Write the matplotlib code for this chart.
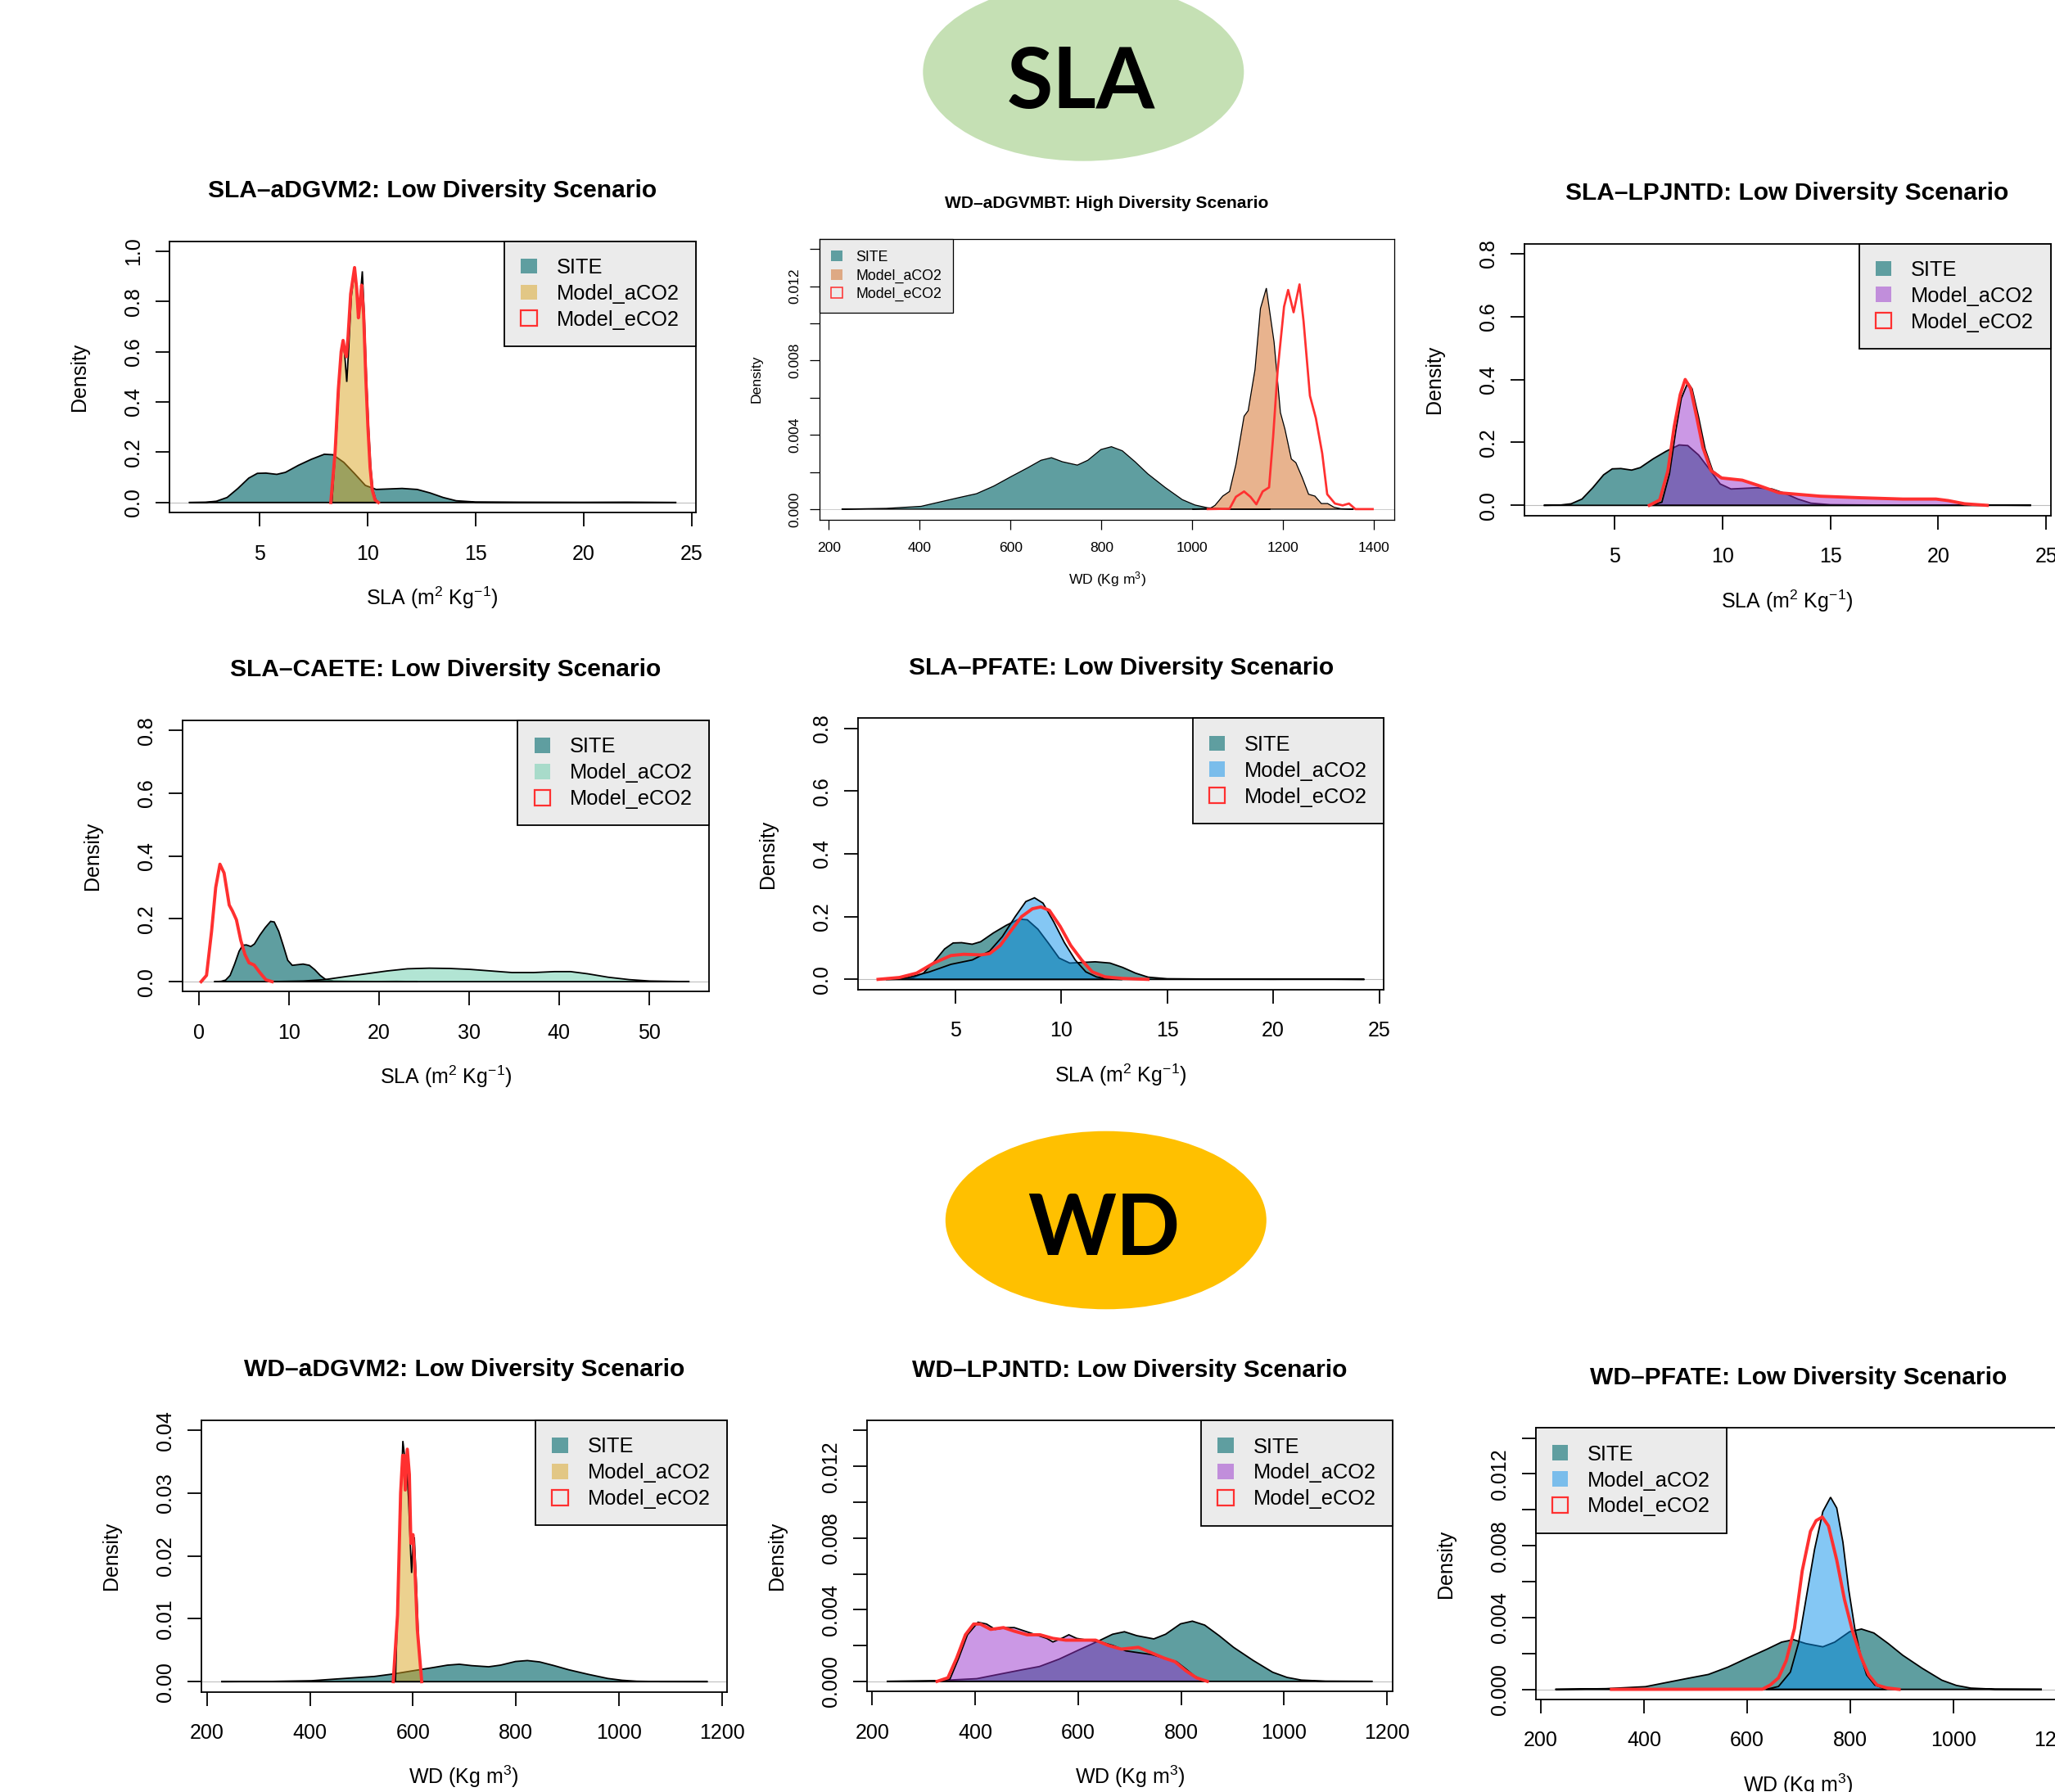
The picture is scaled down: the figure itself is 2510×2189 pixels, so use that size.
import matplotlib
matplotlib.use("Agg")
import matplotlib.pyplot as plt
from matplotlib.patches import Ellipse, Patch
from matplotlib.transforms import offset_copy
from matplotlib.colors import to_rgba

plt.rcParams["font.family"] = ["Liberation Sans", "DejaVu Sans"]
plt.rcParams["mathtext.default"] = "regular"

# ---- data (density curves) ----

# SLA observations (site), shared by all SLA panels
sla_site_x = [1.73, 2.5, 3.0, 3.5, 4.0, 4.5, 4.9, 5.3, 5.8, 6.2, 6.8, 7.4, 8.0, 8.4, 8.9,
              9.4, 9.9, 10.4, 11.0, 11.6, 12.3, 12.9, 13.5, 14.1, 15.0, 17.0, 20.0, 22.0, 24.3]
sla_site_y = [0, 0.001, 0.005, 0.02, 0.056, 0.097, 0.116, 0.117, 0.112, 0.12, 0.148, 0.172, 0.192,
              0.19, 0.16, 0.115, 0.068, 0.052, 0.054, 0.056, 0.052, 0.038, 0.02, 0.007, 0.002,
              0.001, 0.0005, 0.001, 0]

# WD observations (site), shared by all WD panels
wd_site_x = [228, 327, 403, 440, 488, 525, 563, 601, 638, 667, 690, 714, 747, 770, 799, 822,
             846, 874, 902, 940, 978, 1006, 1034, 1081, 1172]
wd_site_y = [0, 0.00004, 0.00015, 0.00036, 0.00063, 0.00083, 0.00124, 0.00175, 0.00223, 0.00263,
             0.00277, 0.00255, 0.00237, 0.00263, 0.00321, 0.00336, 0.00314, 0.00255, 0.0019,
             0.00117, 0.00051, 0.00022, 0.00007, 0.00001, 0]

# SLA - aDGVM2
adgvm2_sla_aco2_x = [8.35, 8.55, 8.7, 8.8, 8.89, 8.97, 9.04, 9.12, 9.25, 9.41, 9.5, 9.56, 9.65,
                     9.76, 9.85, 9.95, 10.05, 10.15, 10.25, 10.4, 10.5]
adgvm2_sla_aco2_y = [0, 0.25, 0.5, 0.6, 0.64, 0.56, 0.48, 0.6, 0.82, 0.93, 0.86, 0.74, 0.8,
                     0.92, 0.75, 0.5, 0.3, 0.14, 0.05, 0.005, 0]
adgvm2_sla_eco2_x = [8.3, 8.5, 8.65, 8.78, 8.87, 8.95, 9.02, 9.1, 9.22, 9.4, 9.5, 9.58, 9.66,
                     9.73, 9.82, 9.92, 10.02, 10.12, 10.22, 10.35, 10.5]
adgvm2_sla_eco2_y = [0, 0.2, 0.45, 0.6, 0.645, 0.6, 0.58, 0.66, 0.83, 0.935, 0.85, 0.735, 0.8,
                     0.865, 0.75, 0.5, 0.3, 0.14, 0.05, 0.01, 0]

# WD - aDGVMBT (high diversity)
adgvmbt_wd_aco2_x = [1000, 1040, 1050, 1067, 1082, 1096, 1114, 1123, 1138, 1150, 1163, 1180, 1194,
                     1204, 1218, 1228, 1242, 1256, 1270, 1284, 1298, 1312, 1327, 1355]
adgvmbt_wd_aco2_y = [0, 0.00005, 0.0002, 0.0007, 0.00095, 0.0024, 0.005, 0.0053, 0.0075, 0.0108,
                     0.0119, 0.009, 0.0052, 0.0043, 0.0027, 0.0025, 0.0017, 0.0008, 0.0007, 0.0003,
                     0.0003, 0.0001, 0.00002, 0]
adgvmbt_wd_eco2_x = [1034, 1082, 1096, 1114, 1128, 1141, 1155, 1169, 1178, 1188, 1202, 1211, 1223,
                     1236, 1245, 1259, 1272, 1286, 1297, 1314, 1331, 1345, 1359, 1397]
adgvmbt_wd_eco2_y = [0, 0.00002, 0.00066, 0.00095, 0.00066, 0.00026, 0.00095, 0.00117, 0.0039,
                     0.0075, 0.0109, 0.0118, 0.0106, 0.0121, 0.0101, 0.0061, 0.0049, 0.003, 0.0008,
                     0.0003, 0.0002, 0.0003, 0.0, 0]

# SLA - LPJNTD
lpjntd_sla_aco2_x = [6.7, 7.2, 7.55, 7.85, 8.1, 8.4, 8.6, 8.9, 9.2, 9.55, 10.0, 10.9, 11.7, 12.6,
                     14.5, 16.5, 18.4, 19.9, 20.5, 21.2, 22.3]
lpjntd_sla_aco2_y = [0, 0.01, 0.1, 0.24, 0.34, 0.39, 0.37, 0.28, 0.18, 0.11, 0.087, 0.08, 0.062,
                     0.04, 0.029, 0.024, 0.02, 0.02, 0.015, 0.005, 0]
lpjntd_sla_eco2_x = [6.62, 7.1, 7.48, 7.77, 8.05, 8.28, 8.53, 8.82, 9.1, 9.48, 9.96, 10.92, 11.68,
                     12.63, 14.54, 16.45, 18.36, 19.9, 20.47, 21.22, 22.27]
lpjntd_sla_eco2_y = [0, 0.017, 0.11, 0.25, 0.352, 0.4, 0.372, 0.278, 0.184, 0.11, 0.087, 0.08,
                     0.063, 0.04, 0.029, 0.024, 0.02, 0.02, 0.015, 0.005, 0]

# SLA - CAETE
caete_sla_aco2_x = [7.9, 11.6, 14.0, 16.3, 18.6, 20.9, 23.2, 25.6, 27.9, 30.2, 32.5, 34.8, 37.2,
                    39.5, 41.3, 43.2, 45.5, 47.8, 50.1, 54.5]
caete_sla_aco2_y = [0, 0.002, 0.0065, 0.016, 0.025, 0.034, 0.041, 0.043, 0.042, 0.039, 0.034,
                    0.029, 0.029, 0.032, 0.032, 0.025, 0.014, 0.0065, 0.002, 0]
caete_sla_eco2_x = [0.28, 0.88, 1.44, 1.9, 2.37, 2.83, 3.4, 3.76, 4.2, 4.68, 5.15, 5.6, 6.17,
                    6.77, 7.47, 8.16]
caete_sla_eco2_y = [0, 0.02, 0.16, 0.3, 0.374, 0.346, 0.244, 0.225, 0.197, 0.132, 0.086, 0.06,
                    0.053, 0.03, 0.006, 0]

# SLA - PFATE
pfate_sla_aco2_x = [1.36, 2.78, 3.79, 4.8, 5.81, 6.62, 7.22, 7.83, 8.33, 8.74, 9.14, 9.65, 10.15,
                    10.66, 11.16, 11.67, 12.27, 12.88]
pfate_sla_aco2_y = [0, 0.006, 0.024, 0.048, 0.062, 0.09, 0.136, 0.2, 0.248, 0.26, 0.243, 0.183,
                    0.117, 0.062, 0.024, 0.0075, 0.001, 0]
pfate_sla_eco2_x = [1.36, 2.37, 3.18, 3.99, 4.8, 5.4, 6.21, 6.62, 7.12, 7.63, 8.13, 8.64, 9.04,
                    9.44, 9.95, 10.45, 10.96, 11.46, 12.07, 12.88, 14.09]
pfate_sla_eco2_y = [0, 0.006, 0.02, 0.052, 0.076, 0.08, 0.078, 0.082, 0.108, 0.155, 0.2, 0.225,
                    0.231, 0.22, 0.169, 0.108, 0.062, 0.024, 0.008, 0.003, 0]

# WD - aDGVM2
adgvm2_wd_aco2_x = [566, 572, 577, 580.4, 583.8, 587, 591.5, 595.7, 597.4, 600, 602.6, 606.8,
                    611, 617]
adgvm2_wd_aco2_y = [0, 0.0175, 0.0303, 0.0383, 0.0358, 0.036, 0.029, 0.0202, 0.0173, 0.022,
                    0.023, 0.0152, 0.006, 0]
adgvm2_wd_eco2_x = [561.7, 570, 576, 580, 582.7, 585, 589, 593, 596, 600, 604, 608.5, 617]
adgvm2_wd_eco2_y = [0, 0.0106, 0.03, 0.036, 0.036, 0.0305, 0.037, 0.033, 0.022, 0.0234, 0.0175,
                    0.0083, 0]

# WD - LPJNTD
lpjntd_wd_aco2_x = [326, 351, 368, 385, 405.5, 422, 439, 460, 476, 497, 518, 539, 551, 568, 582,
                    597, 618, 643, 668, 693, 717, 742, 767, 791, 809, 826, 846]
lpjntd_wd_aco2_y = [0, 0.00013, 0.0013, 0.0026, 0.0033, 0.0032, 0.0029, 0.003, 0.003, 0.0028,
                    0.0026, 0.0024, 0.0022, 0.0024, 0.0026, 0.0024, 0.0023, 0.0022, 0.002, 0.0017,
                    0.0016, 0.0015, 0.0013, 0.0011, 0.0007, 0.0003, 0]
lpjntd_wd_eco2_x = [326, 347, 364, 381, 397, 410, 430, 455, 476, 501, 526, 551, 576, 609, 634,
                    659, 684, 717, 742, 767, 788, 809, 830, 851]
lpjntd_wd_eco2_y = [0, 0.0002, 0.0013, 0.0026, 0.0032, 0.0032, 0.0029, 0.003, 0.0028, 0.0026,
                    0.0026, 0.0024, 0.0023, 0.0023, 0.0023, 0.002, 0.0018, 0.0019, 0.0016, 0.0013,
                    0.0011, 0.0006, 0.0002, 0]

# WD - PFATE
pfate_wd_aco2_x = [637, 661, 684, 700, 716, 731, 747, 762, 774, 786, 797, 809, 821, 832, 848, 871]
pfate_wd_aco2_y = [0, 0.00016, 0.00096, 0.0026, 0.0053, 0.0078, 0.0099, 0.0107, 0.0101, 0.0082,
                   0.0056, 0.0034, 0.0018, 0.0008, 0.00024, 0]
pfate_wd_eco2_x = [337, 630, 645, 661, 676, 692, 707, 723, 734, 746, 758, 774, 789, 805, 821,
                   836, 852, 871, 895]
pfate_wd_eco2_y = [0, 0.00001, 0.00024, 0.00064, 0.0016, 0.0034, 0.0066, 0.0088, 0.0094, 0.0096,
                   0.0091, 0.0072, 0.005, 0.0032, 0.0018, 0.0008, 0.00024, 0.00008, 0]

legend_labels = ["SITE", "Model_aCO2", "Model_eCO2"]
sla_xlabel = "SLA (m$^{2}$ Kg$^{-1}$)"
wd_xlabel = "WD (Kg m$^{3}$)"

# ---- styling ----
W, H = 2510, 2189
SITE_COL = "#5F9EA0"
RED = "#FF3030"
PX = 0.72  # pixels -> points at dpi 100


def px_rect(l, t, r, b):
    return [l / W, 1 - b / H, (r - l) / W, (b - t) / H]


def draw_panel(fig, rect, title, xlabel, site, aco2, eco2, model_color,
               xlim, ylim, xticks, yticks, ylabels, legend_loc, s=1.0):
    ax = fig.add_axes(rect)
    ax.set_xlim(xlim)
    ax.set_ylim(ylim)

    # zero line like plot.density
    ax.axhline(0, color="#BEBEBE", lw=0.8 * s, zorder=1)
    ax.fill(site[0], site[1], facecolor=SITE_COL, edgecolor="black", lw=1.3 * s, zorder=2)
    ax.fill(aco2[0], aco2[1], facecolor=to_rgba(model_color, 0.5), edgecolor="black",
            lw=1.3 * s, zorder=3)
    ax.plot(eco2[0], eco2[1], color=RED, lw=2.8 * s, zorder=4, solid_joinstyle="round")

    ax.set_xticks(xticks, [str(t) for t in xticks])
    ax.set_yticks(yticks, ylabels)
    ax.tick_params(direction="out", length=16.8 * PX * s, width=1.3 * s,
                   labelsize=18 * s, colors="black")
    ax.tick_params(axis="x", pad=21.7 * PX * s)
    ax.tick_params(axis="y", pad=15.2 * PX * s)
    plt.setp(ax.get_yticklabels(), rotation=90, va="center", ha="right")
    for sp in ax.spines.values():
        sp.set_linewidth(1.3 * s)

    ax.text(0.5, 1, title, transform=offset_copy(ax.transAxes, fig, y=53.6 * PX * s, units="points"),
            ha="center", va="baseline", fontsize=21.6 * s, fontweight="bold")
    ax.text(0.5, 0, xlabel, transform=offset_copy(ax.transAxes, fig, y=-113 * PX * s, units="points"),
            ha="center", va="baseline", fontsize=18 * s)
    ax.text(0, 0.5, "Density", transform=offset_copy(ax.transAxes, fig, x=-102.7 * PX * s, units="points"),
            ha="center", va="baseline", rotation=90, rotation_mode="anchor", fontsize=18 * s)

    handles = [
        Patch(facecolor=SITE_COL, edgecolor="none"),
        Patch(facecolor=to_rgba(model_color, 0.5), edgecolor="none"),
        Patch(facecolor="none", edgecolor=RED, lw=1.6 * s),
    ]
    leg = ax.legend(handles, legend_labels, loc=legend_loc, borderaxespad=0, fontsize=18.3 * s,
                    fancybox=False, framealpha=1, facecolor="#EBEBEB", edgecolor="black",
                    borderpad=0.8, labelspacing=0.31, handlelength=0.76, handleheight=0.76,
                    handletextpad=0.94)
    leg.get_frame().set_linewidth(1.3 * s)
    leg.set_zorder(10)
    return ax


def main():
    fig = plt.figure(figsize=(W / 100, H / 100), dpi=100)

    sla_yt = [0, 0.2, 0.4, 0.6, 0.8]
    sla_yl = ["0.0", "0.2", "0.4", "0.6", "0.8"]
    wd_yt = [0, 0.002, 0.004, 0.006, 0.008, 0.010, 0.012, 0.014]
    wd_yl = ["0.000", "", "0.004", "", "0.008", "", "0.012", ""]
    sla_site = (sla_site_x, sla_site_y)
    wd_site = (wd_site_x, wd_site_y)

    draw_panel(fig, px_rect(206.7, 294.6, 849.6, 626.1),
               "SLA\u2013aDGVM2: Low Diversity Scenario", sla_xlabel, sla_site,
               (adgvm2_sla_aco2_x, adgvm2_sla_aco2_y), (adgvm2_sla_eco2_x, adgvm2_sla_eco2_y),
               "goldenrod", (0.82, 25.19), (-0.04, 1.04), [5, 10, 15, 20, 25],
               [0, 0.2, 0.4, 0.6, 0.8, 1.0], ["0.0", "0.2", "0.4", "0.6", "0.8", "1.0"],
               "upper right")

    draw_panel(fig, px_rect(1000.9, 291.6, 1703.3, 634.6),
               "WD\u2013aDGVMBT: High Diversity Scenario", wd_xlabel, wd_site,
               (adgvmbt_wd_aco2_x, adgvmbt_wd_aco2_y), (adgvmbt_wd_eco2_x, adgvmbt_wd_eco2_y),
               "chocolate", (179.3, 1445.2), (-0.00056, 0.01456),
               [200, 400, 600, 800, 1000, 1200, 1400], wd_yt, wd_yl, "upper left", s=0.7)

    draw_panel(fig, px_rect(1861.6, 297.5, 2504.5, 629.6),
               "SLA\u2013LPJNTD: Low Diversity Scenario", sla_xlabel, sla_site,
               (lpjntd_sla_aco2_x, lpjntd_sla_aco2_y), (lpjntd_sla_eco2_x, lpjntd_sla_eco2_y),
               "darkorchid", (0.82, 25.2), (-0.032, 0.832), [5, 10, 15, 20, 25],
               sla_yt, sla_yl, "upper right")

    draw_panel(fig, px_rect(223.2, 880, 866, 1211.4),
               "SLA\u2013CAETE: Low Diversity Scenario", sla_xlabel, sla_site,
               (caete_sla_aco2_x, caete_sla_aco2_y), (caete_sla_eco2_x, caete_sla_eco2_y),
               "mediumaquamarine", (-1.76, 56.67), (-0.032, 0.832), [0, 10, 20, 30, 40, 50],
               sla_yt, sla_yl, "upper right")

    draw_panel(fig, px_rect(1048, 877.5, 1690.3, 1208.6),
               "SLA\u2013PFATE: Low Diversity Scenario", sla_xlabel, sla_site,
               (pfate_sla_aco2_x, pfate_sla_aco2_y), (pfate_sla_eco2_x, pfate_sla_eco2_y),
               "#0A91EB", (0.415, 25.22), (-0.032, 0.832), [5, 10, 15, 20, 25],
               sla_yt, sla_yl, "upper right")

    draw_panel(fig, px_rect(245.7, 1734.9, 887.9, 2066.5),
               "WD\u2013aDGVM2: Low Diversity Scenario", wd_xlabel, wd_site,
               (adgvm2_wd_aco2_x, adgvm2_wd_aco2_y), (adgvm2_wd_eco2_x, adgvm2_wd_eco2_y),
               "goldenrod", (188.9, 1209.4), (-0.0016, 0.0416),
               [200, 400, 600, 800, 1000, 1200], [0, 0.01, 0.02, 0.03, 0.04],
               ["0.00", "0.01", "0.02", "0.03", "0.04"], "upper right")

    draw_panel(fig, px_rect(1059.1, 1735.2, 1700.9, 2066.1),
               "WD\u2013LPJNTD: Low Diversity Scenario", wd_xlabel, wd_site,
               (lpjntd_wd_aco2_x, lpjntd_wd_aco2_y), (lpjntd_wd_eco2_x, lpjntd_wd_eco2_y),
               "darkorchid", (190, 1211), (-0.00056, 0.01456),
               [200, 400, 600, 800, 1000, 1200], wd_yt, wd_yl, "upper right")

    draw_panel(fig, px_rect(1875.6, 1744.3, 2517.8, 2075.9),
               "WD\u2013PFATE: Low Diversity Scenario", wd_xlabel, wd_site,
               (pfate_wd_aco2_x, pfate_wd_aco2_y), (pfate_wd_eco2_x, pfate_wd_eco2_y),
               "#0A91EB", (189.8, 1209.8), (-0.00056, 0.01456),
               [200, 400, 600, 800, 1000, 1200], wd_yt, wd_yl, "upper left")

    # section badges
    for cx, cy, col, label, base in [(1323.3, 87.9, "#C5E0B4", "SLA", 131.7),
                                     (1350.8, 1490.5, "#FFC000", "WD", 1533.3)]:
        fig.add_artist(Ellipse((cx / W, 1 - cy / H), 392 / W, 217.6 / H,
                               transform=fig.transFigure, facecolor=col, edgecolor="none"))
        fig.text((cx - 3) / W, 1 - base / H, label, ha="center", va="baseline",
                 fontsize=74, fontweight="bold", family=["Lato", "DejaVu Sans"])

    fig.savefig("out.png", dpi=100)


if __name__ == "__main__":
    main()
